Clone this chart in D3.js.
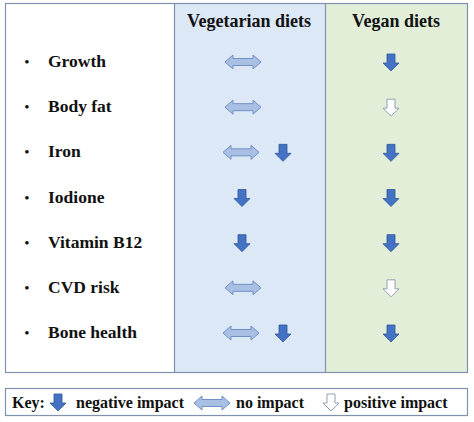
<!DOCTYPE html>
<html><head><meta charset="utf-8">
<script src="https://cdn.jsdelivr.net/npm/d3@7"></script>
<style>body{margin:0;background:#fff}</style>
</head><body><div id="chart"></div>
<script>
// DATA
var factors = ["Growth", "Body fat", "Iron", "Iodione", "Vitamin B12", "CVD risk", "Bone health"];
var columns = ["Vegetarian diets", "Vegan diets"];
// codes: N = negative, S = no impact, P = positive
var vegetarian = [["S"], ["S"], ["S", "N"], ["N"], ["N"], ["S"], ["S", "N"]];
var vegan = [["N"], ["P"], ["N"], ["N"], ["N"], ["P"], ["N"]];
var keyItems = [["N", "negative impact"], ["S", "no impact"], ["P", "positive impact"]];

var W = 474, H = 422;
var svg = d3.select("#chart").append("svg").attr("width", W).attr("height", H);
var serif = "'Liberation Serif', serif";

// background columns
svg.append("rect").attr("x", 174).attr("y", 3).attr("width", 151).attr("height", 370).style("fill", "#dce8f6");
svg.append("rect").attr("x", 325).attr("y", 3).attr("width", 143).attr("height", 370).style("fill", "#e2eed8");
svg.append("rect").attr("x", 5.5).attr("y", 3.5).attr("width", 462).attr("height", 369)
  .style("fill", "none").style("stroke", "#7f93ad").style("stroke-width", 1.2);
[174.5, 325.5].forEach(function(x) {
  svg.append("line").attr("x1", x).attr("x2", x).attr("y1", 3).attr("y2", 373)
    .style("stroke", "#7f93ad").style("stroke-width", 1.2);
});

// headers
var colX = d3.scalePoint().domain(columns).range([249, 396]);
columns.forEach(function(c) {
  svg.append("text").attr("x", colX(c)).attr("y", 27).attr("text-anchor", "middle")
    .style("font-family", serif).style("font-weight", "bold").style("font-size", "18px")
    .style("fill", "#111").text(c);
});

var y = d3.scalePoint().domain(factors).range([62, 333]);

// arrow shapes
var down = "M-4,-9 L4,-9 L4,0 L8,0 L0,8 L-8,0 L-4,0 Z";
var both = "M-18,0 L-10,-7 L-10,-3.5 L10,-3.5 L10,-7 L18,0 L10,7 L10,3.5 L-10,3.5 L-10,7 Z";
function arrow(g, code, x, yy) {
  var p = g.append("path").attr("transform", "translate(" + x + "," + yy + ")");
  if (code === "N") p.attr("d", down).style("fill", "#4472c4").style("stroke", "#2f5597").style("stroke-width", 0.8);
  else if (code === "P") p.attr("d", down).style("fill", "#fff").style("stroke", "#8596b3").style("stroke-width", 0.9);
  else p.attr("d", both).style("fill", "#a9bfe4").style("stroke", "#7190c6").style("stroke-width", 1);
}

factors.forEach(function(f, i) {
  svg.append("text").attr("x", 27).attr("y", y(f) + 5).attr("text-anchor", "middle")
    .style("font-family", serif).style("font-size", "15px").style("fill", "#111").text("•");
  svg.append("text").attr("x", 48).attr("y", y(f) + 5)
    .style("font-family", serif).style("font-weight", "bold").style("font-size", "17.5px")
    .style("fill", "#111").text(f);
  var v = vegetarian[i];
  if (v.length === 1) arrow(svg, v[0], v[0] === "S" ? 243 : 242, y(f) + (v[0] === "S" ? 0 : 1));
  else { arrow(svg, v[0], 241, y(f)); arrow(svg, v[1], 283, y(f) + 1); }
  arrow(svg, vegan[i][0], 391, y(f) + 1);
});

// key
svg.append("rect").attr("x", 5.5).attr("y", 388.5).attr("width", 462).attr("height", 27)
  .style("fill", "#fff").style("stroke", "#7f93ad").style("stroke-width", 1.2);
svg.append("text").attr("x", 12).attr("y", 408)
  .style("font-family", serif).style("font-weight", "bold").style("font-size", "16px").style("fill", "#111").text("Key:");
var keyPos = [[58, 76, "negative impact"], [212, 236, "no impact"], [331, 344, "positive impact"]];
keyItems.forEach(function(k, i) {
  arrow(svg, k[0], keyPos[i][0], 403);
  svg.append("text").attr("x", keyPos[i][1]).attr("y", 408)
    .style("font-family", serif).style("font-weight", "bold").style("font-size", "16px").style("fill", "#111").text(k[1]);
});
</script></body></html>
